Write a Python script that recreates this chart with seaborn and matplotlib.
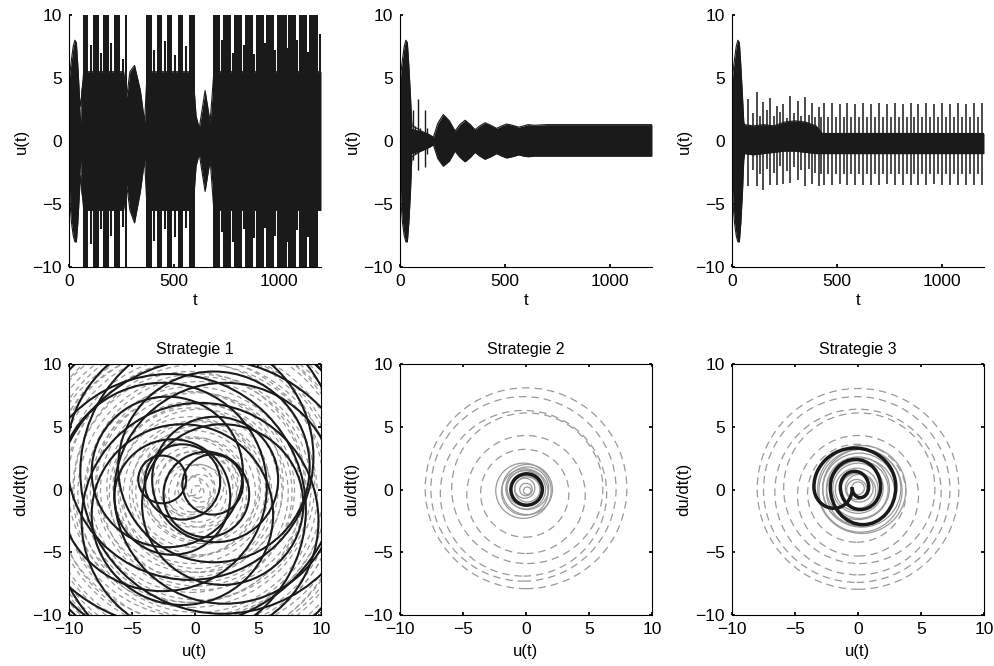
import numpy as np
import matplotlib
matplotlib.use("Agg")
import matplotlib.pyplot as plt
from matplotlib.patches import Circle, Arc
import seaborn as sns

# --- start of all three runs (same initial burst), envelope
burst_t = [0, 5, 12, 20, 28, 35, 42, 50, 56]
burst_hi = [4.5, 5.5, 6.5, 7.5, 8.0, 7.8, 6.0, 3.5, 1.5]
burst_lo = [-3.0, -5.0, -6.5, -7.5, -8.0, -8.0, -6.5, -4.0, -1.5]

# --- Strategie 1: u(t)
env1_t = [56, 70, 260, 275, 290, 312, 340, 360, 372, 590, 605, 620, 648, 672, 690, 1200]
env1_hi = [4.0, 5.5, 5.5, 3.5, 5.5, 6.0, 4.0, 1.5, 5.5, 5.5, 2.0, 1.0, 4.0, 1.5, 5.5, 5.5]
env1_lo = [-4.0, -5.5, -5.5, -3.5, -5.5, -6.5, -4.0, -1.5, -5.5, -5.5, -2.0, -1.0, -4.0, -1.5, -5.5, -5.5]
bar1_start = [67, 114, 162, 214, 268, 367, 419, 467, 519, 571, 686, 733, 786, 838, 890, 938, 990, 1043, 1095, 1143, 1191]
bar1_end = [92, 143, 190, 243, 274, 395, 443, 490, 543, 600, 719, 771, 824, 876, 929, 976, 1038, 1081, 1133, 1186, 1200]
bar1_hi = [10] * 20 + [8.5]
bar1_lo = [-10] * 20 + [-5.0]
mid1_t = [103, 152, 202, 255, 407, 455, 505, 557, 728, 779, 831, 883, 934, 983, 1041, 1088, 1138]
mid1_hi = [7.6, 7.0, 7.8, 6.5, 7.2, 7.9, 6.8, 7.5, 8.0, 7.0, 7.6, 6.9, 7.8, 7.2, 7.4, 8.0, 7.1]
mid1_lo = [-8.2, -7.0, -7.5, -6.8, -7.9, -7.0, -7.6, -6.9, -7.2, -8.0, -7.0, -7.7, -6.9, -7.5, -8.0, -7.1, -7.6]

# --- Strategie 2: u(t)
env2_t = [56, 100, 140, 159, 180, 206, 235, 262, 285, 310, 335, 357, 380, 405, 432, 460,
          485, 508, 535, 565, 590, 610, 640, 700, 800, 900, 1000, 1100, 1200]
env2_hi = [1.0, 0.8, 0.5, 0.3, 1.4, 2.1, 1.6, 0.8, 1.3, 1.65, 1.3, 0.9, 1.2, 1.45, 1.25, 1.0,
           1.2, 1.35, 1.25, 1.1, 1.2, 1.3, 1.25, 1.3, 1.3, 1.3, 1.3, 1.3, 1.3]
env2_lo = [-1.0, -0.8, -0.5, -0.3, -1.4, -2.0, -1.6, -0.8, -1.3, -1.65, -1.3, -0.9, -1.2, -1.45, -1.25, -1.0,
           -1.2, -1.35, -1.25, -1.1, -1.2, -1.25, -1.2, -1.2, -1.2, -1.2, -1.2, -1.2, -1.2]
spk2_t = [63, 72, 87, 97, 119, 130]
spk2_hi = [2.5, 1.2, 3.3, 1.0, 2.5, 1.0]
spk2_lo = [-1.5, -1.0, -2.3, -0.8, -2.1, -1.0]

# --- Strategie 3: u(t)
env3_t = [56, 60, 100, 150, 200, 250, 300, 350, 400, 430, 600, 800, 1000, 1200]
env3_hi = [1.5, 1.3, 1.2, 1.3, 1.2, 1.5, 1.6, 1.5, 1.2, 0.6, 0.6, 0.6, 0.6, 0.6]
env3_lo = [-1.5, -1.0, -1.1, -1.0, -0.9, -0.8, -0.8, -0.9, -1.0, -1.0, -1.0, -1.0, -1.0, -1.0]
spk3_t = [78, 118, 150, 182, 214, 245, 277, 312, 349, 381, 412, 437, 475, 512, 550, 588,
          625, 663, 700, 738, 776, 813, 851, 888, 926, 964, 1001, 1039, 1076, 1114, 1152, 1189]
spk3_hi = [3.3, 3.9, 3.1, 3.4, 2.8, 2.9, 3.6, 3.2, 3.5, 3.0, 2.7, 3.0, 3.0, 2.9, 3.0, 2.9,
           3.0, 2.9, 3.0, 2.9, 3.0, 2.9, 3.0, 2.9, 3.0, 2.9, 3.0, 2.9, 3.0, 2.9, 3.0, 3.0]
spk3_lo = [-3.6, -3.6, -3.9, -3.5, -3.5, -3.4, -3.3, -3.1, -3.6, -3.4, -3.6, -3.5, -3.5, -3.4, -3.5, -3.5,
           -3.5, -3.5, -3.5, -3.4, -3.5, -3.5, -3.5, -3.5, -3.5, -3.4, -3.5, -3.5, -3.5, -3.5, -3.5, -3.5]
sec3_t = [98, 134, 166, 198, 230, 261, 295, 330, 365, 397, 425, 456, 494, 531, 569, 606,
          644, 681, 719, 757, 794, 832, 869, 907, 945, 982, 1020, 1057, 1095, 1133, 1170]
sec3_hi = [2.2, 2.0, 2.5, 2.0, 2.3, 1.8, 2.2, 2.0, 2.1, 1.9, 1.9, 1.9, 1.9, 1.9, 1.9, 1.9,
           1.9, 1.9, 1.9, 1.9, 1.9, 1.9, 1.9, 1.9, 1.9, 1.9, 1.9, 1.9, 1.9, 1.9, 1.9]
sec3_lo = [-2.3, -2.6, -2.2, -2.5, -2.0, -2.4, -2.1, -2.3, -2.2, -2.5, -2.6, -2.6, -2.6, -2.6, -2.6, -2.6,
           -2.6, -2.6, -2.6, -2.6, -2.6, -2.6, -2.6, -2.6, -2.6, -2.6, -2.6, -2.6, -2.6, -2.6, -2.6]

# --- phase portraits (orbits as circles: centre u, centre du/dt, radius)
p1_gray_r = [0.5, 0.8, 1.1, 1.4, 1.7, 2.0, 2.3, 2.6, 2.9, 3.2, 3.5, 3.8, 4.1, 4.4, 4.7, 5.0,
             5.3, 5.6, 5.9, 6.2, 6.5, 6.8, 7.1, 7.4, 7.7, 8.0, 8.3, 8.6, 8.9, 9.2, 9.5, 9.8,
             10.1, 10.4, 10.7, 11.0, 11.3, 11.6, 11.9, 12.2, 12.5, 12.8, 13.1, 13.4, 13.7, 14.0, 14.3]
p1_gray_cu = [0.2, -0.3, 0.4, -0.2, 0.3, -0.4, 0.2, -0.3, 0.4, -0.2, 0.3, -0.4, 0.2, -0.3, 0.4, -0.2,
              0.3, -0.4, 0.2, -0.3, 0.4, -0.2, 0.3, -0.4, 0.2, -0.3, 0.4, -0.2, 0.3, -0.4, 0.2, -0.3,
              0.4, -0.2, 0.3, -0.4, 0.2, -0.3, 0.4, -0.2, 0.3, -0.4, 0.2, -0.3, 0.4, -0.2, 0.3]
p1_gray_cv = [-0.2, 0.3, 0.1, -0.4, 0.3, 0.0, -0.3, 0.4, -0.1, 0.2, -0.4, 0.3, 0.0, -0.2, 0.4, -0.3,
              0.1, 0.2, -0.4, 0.3, -0.1, 0.2, -0.3, 0.4, 0.0, -0.2, 0.3, -0.4, 0.1, 0.2, -0.3, 0.4,
              -0.1, 0.2, -0.3, 0.4, 0.0, -0.2, 0.3, -0.4, 0.1, 0.2, -0.3, 0.4, -0.1, 0.2, -0.3]
p1_black_cu = [-2.6, 1.4, -1.0, 0.9, -1.8, 1.6, -2.2, 2.2, -1.0, 1.5, -2.6, 2.4, 0.4, -0.4, -2.0, 2.2, 1.0, -1.4, 0.0]
p1_black_cv = [0.8, 0.4, 0.6, -0.4, -0.6, 0.8, 1.4, -1.2, -2.0, 1.8, 0.2, -0.3, -2.5, 2.6, -1.6, 1.4, -2.0, 2.0, 0.0]
p1_black_r = [1.9, 2.4, 3.0, 3.4, 4.6, 5.0, 6.0, 6.4, 7.2, 7.6, 8.3, 8.8, 9.4, 9.8, 10.8, 11.3, 12.4, 13.0, 13.8]

p2_dash_cu = [0.0, -0.2, -0.2, 0.1, 0.0, -0.1]
p2_dash_cv = [0.1, 0.05, -0.3, 0.1, -0.4, -0.3]
p2_dash_r = [8.0, 7.35, 6.6, 6.0, 4.7, 3.5]
p2_gray_r = [2.2, 2.0, 1.85, 1.7, 1.55, 1.4, 1.2, 1.0, 0.8, 0.5, 0.3]
p2_gray_cu = [-0.2, 0.1, -0.1, 0.1, 0.0, -0.1, 0.0, 0.1, -0.1, 0.0, 0.1]
p2_gray_cv = [-0.1, 0.0, -0.2, 0.1, 0.0, 0.1, -0.1, 0.0, 0.1, 0.0, -0.1]
p2_black = (0.05, 0.0, 1.25)

p3_dash_cu = [0.0, -0.1, 0.0, 0.1, 0.0, -0.1]
p3_dash_cv = [0.05, 0.0, -0.2, 0.1, -0.5, -0.3]
p3_dash_r = [8.0, 7.4, 6.6, 6.0, 4.8, 3.9]
p3_gray_r = [3.5, 3.3, 3.1, 2.9, 2.7, 2.5, 2.3, 2.0, 1.7, 1.4, 1.1, 0.8, 0.5]
p3_gray_cu = [0.3, 0.2, 0.3, 0.1, 0.2, 0.0, 0.1, 0.0, -0.1, 0.0, 0.1, -0.1, 0.0]
p3_gray_cv = [0.0, -0.1, 0.1, 0.0, -0.2, 0.1, 0.0, 0.1, 0.0, -0.1, 0.1, 0.0, 0.1]
# spiral pieces: centre u, centre v, width, height, start angle, end angle
p3_arc_cu = [0.185, -0.275, 0.2, -0.2, 0.4, -0.25, -1.9, -1.9]
p3_arc_cv = [0.2, 0.2, 0.2, 0.2, 0.2, 0.2, 0.2, 0.1]
p3_arc_w = [1.33, 2.25, 3.2, 4.0, 5.2, 6.5, 3.2, 2.9]
p3_arc_h = [1.7, 2.5, 3.6, 4.4, 6.0, 6.2, 3.4, 3.2]
p3_arc_t1 = [180, 0, 180, 0, 180, 0, 180, 270]
p3_arc_t2 = [360, 180, 360, 180, 360, 180, 270, 360]

sns.set_theme(style="ticks")
plt.rcParams['font.family'] = ['Liberation Sans', 'DejaVu Sans']
plt.rcParams.update({
    'font.size': 12,
    'axes.edgecolor': 'black',
    'axes.linewidth': 0.8,
    'text.color': 'black',
    'axes.labelcolor': 'black',
    'xtick.color': 'black',
    'ytick.color': 'black',
})

fig = plt.figure(figsize=(9.95, 6.66), dpi=100)
W, H = 995, 666
lefts = [69, 400, 732]
gray = '0.6'


def time_panel(ax, env_t, env_hi, env_lo):
    t = np.array(burst_t + env_t)
    hi = np.array(burst_hi + env_hi)
    lo = np.array(burst_lo + env_lo)
    ax.fill_between(t, lo, hi, color='k', lw=0)
    sns.lineplot(x=t, y=hi, ax=ax, color='k', lw=0.8)
    sns.lineplot(x=t, y=lo, ax=ax, color='k', lw=0.8)
    ax.set_xlim(0, 1200)
    ax.set_ylim(-10, 10)
    ax.set_xticks([0, 500, 1000])
    ax.set_yticks([-10, -5, 0, 5, 10])
    ax.set_xlabel('t', fontsize=12, labelpad=3)
    ax.set_ylabel('u(t)', fontsize=12, labelpad=3)
    ax.tick_params(direction='in', length=2.5, labelsize=12.5, pad=5)
    sns.despine(ax=ax)


def phase_panel(ax, title):
    ax.set_xlim(-10, 10)
    ax.set_ylim(-10, 10)
    ax.set_xticks([-10, -5, 0, 5, 10])
    ax.set_yticks([-10, -5, 0, 5, 10])
    ax.set_xlabel('u(t)', fontsize=12, labelpad=5)
    ax.set_ylabel('du/dt(t)', fontsize=12, labelpad=3)
    ax.set_title(title, fontsize=11.5, pad=7)
    ax.tick_params(direction='in', length=2.5, labelsize=12.5, pad=5, top=True, right=True)


def rings(ax, cu, cv, r, **kw):
    for a, b, c in zip(cu, cv, r):
        ax.add_patch(Circle((a, b), c, fill=False, **kw))


top_axes = [fig.add_axes([l / W, 1 - 267 / H, 252 / W, 252 / H]) for l in lefts]
bot_axes = [fig.add_axes([l / W, 1 - 615 / H, 252 / W, 251 / H]) for l in lefts]

# top row
ax = top_axes[0]
time_panel(ax, env1_t, env1_hi, env1_lo)
bs, be = np.array(bar1_start), np.array(bar1_end)
ax.bar((bs + be) / 2, np.array(bar1_hi) - np.array(bar1_lo), width=be - bs,
       bottom=bar1_lo, color='k', lw=0)
ax.vlines(mid1_t, mid1_lo, mid1_hi, color='k', lw=1.5)

ax = top_axes[1]
time_panel(ax, env2_t, env2_hi, env2_lo)
ax.vlines(spk2_t, spk2_lo, spk2_hi, color='k', lw=1.0)

ax = top_axes[2]
time_panel(ax, env3_t, env3_hi, env3_lo)
ax.vlines(spk3_t, spk3_lo, spk3_hi, color='k', lw=1.1)
ax.vlines(sec3_t, sec3_lo, sec3_hi, color='k', lw=1.1)

# bottom row
ax = bot_axes[0]
rings(ax, p1_gray_cu, p1_gray_cv, p1_gray_r, ec=gray, lw=0.9, ls=(0, (4, 3)))
rings(ax, p1_black_cu, p1_black_cv, p1_black_r, ec='k', lw=1.5)
phase_panel(ax, 'Strategie 1')

ax = bot_axes[1]
rings(ax, p2_dash_cu, p2_dash_cv, p2_dash_r, ec=gray, lw=0.9, ls=(0, (6, 4)))
rings(ax, p2_gray_cu, p2_gray_cv, p2_gray_r, ec=gray, lw=0.9)
ax.add_patch(Circle(p2_black[:2], p2_black[2], fill=False, ec='k', lw=2.5))
phase_panel(ax, 'Strategie 2')

ax = bot_axes[2]
rings(ax, p3_dash_cu, p3_dash_cv, p3_dash_r, ec=gray, lw=0.9, ls=(0, (6, 4)))
rings(ax, p3_gray_cu, p3_gray_cv, p3_gray_r, ec=gray, lw=0.9)
for a, b, w, h, t1, t2 in zip(p3_arc_cu, p3_arc_cv, p3_arc_w, p3_arc_h, p3_arc_t1, p3_arc_t2):
    ax.add_patch(Arc((a, b), w, h, theta1=t1, theta2=t2, ec='k', lw=2.5))
phase_panel(ax, 'Strategie 3')

fig.savefig('out.png', dpi=100)
